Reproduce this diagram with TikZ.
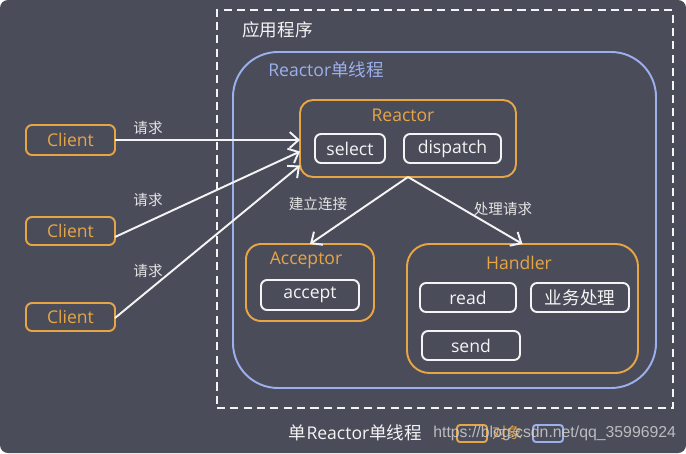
\documentclass[tikz,border=0pt]{standalone}
\usepackage{fontspec}
\setmainfont{Open Sans}
\newfontfamily\cjk{Noto Sans CJK SC}
\newfontfamily\wmfont{Liberation Sans}
\usetikzlibrary{arrows.meta,calc}
\definecolor{bgc}{HTML}{4A4C5A}
\definecolor{orc}{HTML}{E6A646}
\definecolor{blc}{HTML}{9DB0EE}
\definecolor{wht}{HTML}{F4F4F4}
\definecolor{lbc}{HTML}{E4E4E4}
\definecolor{wmc}{HTML}{D0D0D0}
\def\pxu{0.02cm}
\tikzset{
  box/.style={minimum width=#1*\pxu, inner sep=0pt, outer sep=0pt},
  obj/.style={draw=orc, line width=1.1pt, text=orc, font=\fontsize{10}{12}\selectfont},
  fnbox/.style={draw=wht, line width=1.1pt, rounded corners=0.12cm, text=wht, font=\fontsize{10}{12}\selectfont, minimum height=29*\pxu},
  ttl/.style={text=orc, font=\fontsize{10}{12}\selectfont, inner sep=0pt},
  conn/.style={draw=wht, line width=1.1pt, -{Straight Barb[length=5pt,width=9pt,line width=1.1pt]}},
  elbl/.style={text=lbc, font=\cjk\fontsize{8.3}{10}\selectfont, inner sep=0pt},
}
\begin{document}
\begin{tikzpicture}[x=0.02cm,y=-0.02cm]
\useasboundingbox (0,0) rectangle (686,453);
\fill[white] (0,0) rectangle (686,453);
\fill[bgc, rounded corners=0.16cm] (0,0) rectangle (686,453);

% application (dashed) and thread (blue) containers
\node[box=456, minimum height=398*\pxu, draw=wht, line width=1.1pt, dash pattern=on 4.6pt off 3pt] (app) at (445,209) {};
\node[anchor=west, text=wht, font=\cjk\fontsize{10}{12}\selectfont, inner sep=0pt] (applbl) at (242,30) {应用程序};
\node[box=423, minimum height=336*\pxu, draw=blc, line width=1.1pt, rounded corners=0.9cm] (thread) at (444.5,220) {};
\node[anchor=west, text=blc, font=\fontsize{10}{12}\selectfont, inner sep=0pt] (threadlbl) at (268,70) {Reactor{\cjk 单线程}};

% clients
\node[obj, box=89, minimum height=30*\pxu, rounded corners=0.12cm] (c1) at (70.5,140) {Client};
\node[obj, box=89, minimum height=28*\pxu, rounded corners=0.12cm] (c2) at (70.5,231) {Client};
\node[obj, box=89, minimum height=28*\pxu, rounded corners=0.12cm] (c3) at (70.5,317) {Client};

% reactor
\node[obj, box=216, minimum height=77*\pxu, rounded corners=0.26cm] (reactor) at (408,138.5) {};
\node[ttl] (reactorlbl) at (403,115) {Reactor};
\node[fnbox, box=70] (select) at (350,148.5) {select};
\node[fnbox, box=97] (dispatch) at (452.5,148.5) {dispatch};

% acceptor
\node[obj, box=128, minimum height=77*\pxu, rounded corners=0.3cm] (acceptor) at (310,282.5) {};
\node[ttl] (acceptorlbl) at (306,260) {Acceptor};
\node[fnbox, box=98, minimum height=30*\pxu] (accept) at (310,295) {accept};

% handler
\node[obj, box=231, minimum height=129*\pxu, rounded corners=0.45cm] (handler) at (522.5,308.5) {};
\node[ttl] (handlerlbl) at (519,263) {Handler};
\node[fnbox, box=96] (read) at (468,297.5) {read};
\node[fnbox, box=98, font=\cjk\fontsize{10}{12}\selectfont] (biz) at (580,297.5) {业务处理};
\node[fnbox, box=98] (send) at (471,345.5) {send};

% connectors
\draw[conn] (c1.east) -- (c1.east -| reactor.west);
\draw[conn] ($(c2.east)+(0,6)$) -- ($(reactor.west)+(0,13)$);
\draw[conn] ($(c3.east)+(0,1)$) -- ($(reactor.west)+(0,27)$);
\draw[conn] (reactor.south) -- (acceptor.north);
\draw[conn] (reactor.south) -- (handler.north);

\node[elbl] (l1) at (148,128) {请求};
\node[elbl] (l2) at (148,200) {请求};
\node[elbl] (l3) at (148,271) {请求};
\node[elbl] (l4) at (318,204) {建立连接};
\node[elbl] (l5) at (503,209) {处理请求};

% bottom caption and legend
\node[text=wht, font=\fontsize{10}{12}\selectfont, inner sep=0pt] (caption) at (355.5,433) {{\cjk 单}Reactor{\cjk 单线程}};
\node[draw=orc, line width=1.1pt, rounded corners=0.06cm, box=30, minimum height=17*\pxu] (legobj) at (472,433.5) {};
\node[text=orc, font=\cjk\fontsize{8.5}{10}\selectfont, inner sep=0pt] (legobjlbl) at (507,433) {对象};
\node[draw=blc, line width=1.1pt, rounded corners=0.06cm, box=30, minimum height=17*\pxu] (legthr) at (548,433.5) {};
\node[text=wmc, opacity=0.85, font=\wmfont\fontsize{9}{11}\selectfont, inner sep=0pt, anchor=west] (wm) at (433,433) {https://blog.csdn.net/qq\_35996924};
\end{tikzpicture}
\end{document}
